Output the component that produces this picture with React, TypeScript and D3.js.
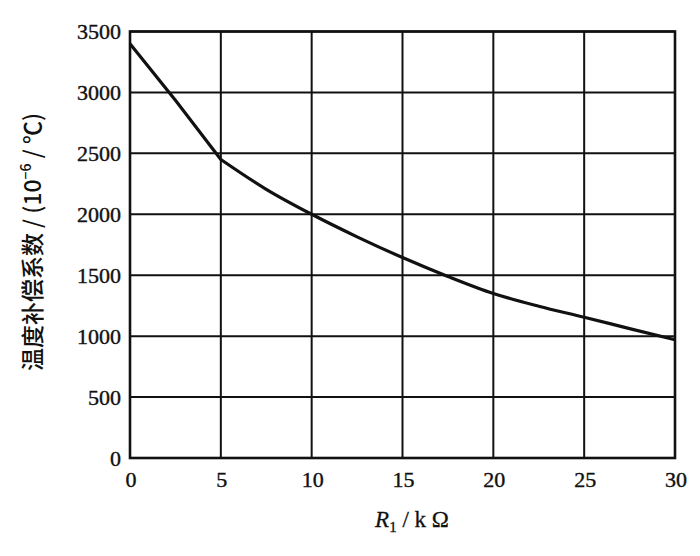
import React from "react";
import * as d3 from "d3";

const rValues = [0, 2.5, 5, 7.5, 10, 12.5, 15, 17.5, 20, 22.5, 25, 27.5, 30];
const coefValues = [3400, 2935, 2450, 2205, 2000, 1815, 1645, 1490, 1350, 1245, 1155, 1062, 970];
const xTicks = [0, 5, 10, 15, 20, 25, 30];
const yTicks = [0, 500, 1000, 1500, 2000, 2500, 3000, 3500];

export default function App() {
  const W = 700, H = 556;
  const left = 130, right = 675, top = 31.5, bottom = 458;
  const x = d3.scaleLinear().domain([0, 30]).range([left, right]);
  const y = d3.scaleLinear().domain([0, 3500]).range([bottom, top]);
  const pts = rValues.map((r, i) => [r, coefValues[i]] as [number, number]);
  const first = pts.slice(0, 3);
  const rest = pts.slice(2);
  const lin = d3.line<[number, number]>().x(d => x(d[0])).y(d => y(d[1]));
  const smooth = d3.line<[number, number]>()
    .x(d => x(d[0]))
    .y(d => y(d[1]))
    .curve(d3.curveMonotoneX);
  const font = "'Liberation Serif', 'Times New Roman', serif";
  return (
    <svg width={W} height={H} style={{ position: "absolute", left: 0, top: 0, background: "#fff" }}>
      <rect x={0} y={0} width={W} height={H} fill="#fff" />
      {xTicks.map(t => (
        <line key={"gx" + t} x1={x(t)} x2={x(t)} y1={top} y2={bottom} stroke="#111" strokeWidth={2} />
      ))}
      {yTicks.map(t => (
        <line key={"gy" + t} x1={left} x2={right} y1={y(t)} y2={y(t)} stroke="#111" strokeWidth={2} />
      ))}
      <rect x={left} y={top} width={right - left} height={bottom - top} fill="none" stroke="#111" strokeWidth={2.6} />
      <path d={(lin(first) || "") + (smooth(rest) || "").replace(/^M/, "L")} fill="none" stroke="#111" strokeWidth={3.2} strokeLinejoin="round" />
      {yTicks.map(t => (
        <text key={"ty" + t} x={121} y={y(t)} dy="0.35em" textAnchor="end" fontFamily={font} fontSize={22} fill="#111" stroke="#111" strokeWidth={0.4}>{t}</text>
      ))}
      {xTicks.map(t => (
        <text key={"tx" + t} x={x(t) + 1} y={487} textAnchor="middle" fontFamily={font} fontSize={22} fill="#111" stroke="#111" strokeWidth={0.4}>{t}</text>
      ))}
      <text x={412} y={527} textAnchor="middle" fontFamily={font} fontSize={23} fill="#111" stroke="#111" strokeWidth={0.3}>
        <tspan fontStyle="italic">R</tspan>
        <tspan fontSize={15} dy={5}>1</tspan>
        <tspan dy={-5}> / k Ω</tspan>
      </text>
      <text transform={`translate(41, 242) rotate(-90)`} textAnchor="middle" fontFamily={`'Noto Sans CJK SC', ${font}`} fontSize={23} fontWeight={500} fill="#111">
        <tspan>温度补偿系数 / (10</tspan>
        <tspan fontSize={14} dy={-10}>−6</tspan>
        <tspan dy={10}> / ℃)</tspan>
      </text>
    </svg>
  );
}
